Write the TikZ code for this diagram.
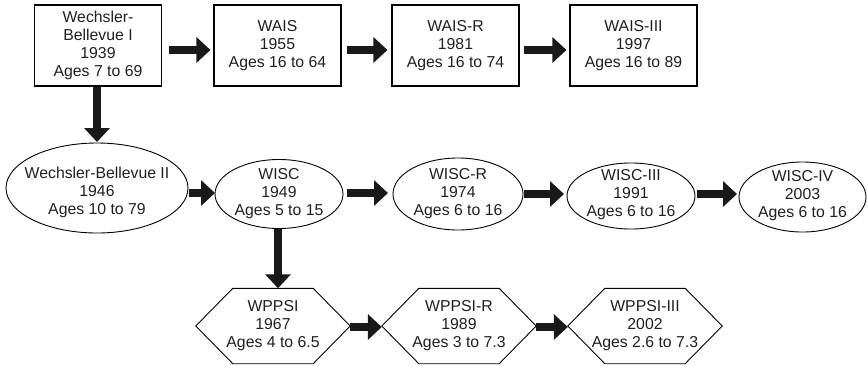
\documentclass[tikz,border=0pt]{standalone}
\usepackage{fontspec}
\setmainfont{Liberation Sans}
\usetikzlibrary{arrows.meta,shapes.geometric,calc}
\begin{document}
\begin{tikzpicture}[x=1pt,y=-1pt,
  txt/.style={font=\fontsize{15.8}{18}\selectfont, align=center, text=black!88, inner sep=0pt},
  boxnode/.style={txt, draw, line width=1.1pt, minimum width=127pt, minimum height=81pt},
  ellnode/.style={draw, ellipse, line width=0.9pt, inner sep=0pt, outer sep=0pt},
  hexnode/.style={txt, minimum width=154pt, minimum height=75pt},
  hexline/.style={draw, line width=0.9pt},
  bigarrow/.style={line width=8pt, black!90, -{Triangle[length=14pt,width=25pt]}}
]
\useasboundingbox (0,0) rectangle (868,365);

% Row 1
\node[boxnode] (wb1) at (98,45.5) {Wechsler-\\Bellevue I\\1939\\Ages 7 to 69};
\node[boxnode] (wais) at (277.5,45.5) {WAIS\\1955\\Ages 16 to 64};
\node[boxnode] (waisr) at (455.5,45.5) {WAIS-R\\1981\\Ages 16 to 74};
\node[boxnode] (waisiii) at (633.5,45.5) {WAIS-III\\1997\\Ages 16 to 89};

% Row 2 (ellipse outlines, then their texts)
\node[ellnode, minimum width=182pt, minimum height=90pt] (wb2) at (97,188) {};
\node[ellnode, minimum width=128pt, minimum height=69pt] (wisc) at (279,194) {};
\node[ellnode, minimum width=130pt, minimum height=72pt] (wiscr) at (458,194) {};
\node[ellnode, minimum width=128pt, minimum height=66pt] (wisciii) at (631,196) {};
\node[ellnode, minimum width=127pt, minimum height=70pt] (wisciv) at (802.5,197) {};
\node[txt] (wb2t) at ($(wb2.center)+(0,4)$) {Wechsler-Bellevue II\\1946\\Ages 10 to 79};
\node[txt] (wisct) at (wisc.center) {WISC\\1949\\Ages 5 to 15};
\node[txt] (wiscrt) at (wiscr.center) {WISC-R\\1974\\Ages 6 to 16};
\node[txt] (wisciiit) at ($(wisciii.center)+(0,-1)$) {WISC-III\\1991\\Ages 6 to 16};
\node[txt] (wiscivt) at ($(wisciv.center)+(0,-1)$) {WISC-IV\\2003\\Ages 6 to 16};

% Row 3
\node[hexnode] (wppsi) at (273,326) {WPPSI\\1967\\Ages 4 to 6.5};
\node[hexnode] (wppsir) at (459,326) {WPPSI-R\\1989\\Ages 3 to 7.3};
\node[hexnode] (wppsiiii) at (645,326) {WPPSI-III\\2002\\Ages 2.6 to 7.3};
\foreach \h in {wppsi,wppsir,wppsiiii}{
  \draw[hexline] (\h.west) -- ([xshift=37pt]\h.north west) -- ([xshift=-37pt]\h.north east)
    -- (\h.east) -- ([xshift=-37pt]\h.south east) -- ([xshift=37pt]\h.south west) -- cycle;
}

% Arrows row 1
\draw[bigarrow] ($(wb1.east)+(7,4.5)$) -- ($(wais.west)+(-3,4.5)$);
\draw[bigarrow] ($(wais.east)+(5,4.5)$) -- ($(waisr.west)+(-4,4.5)$);
\draw[bigarrow] ($(waisr.east)+(4,4.5)$) -- ($(waisiii.west)+(-3,4.5)$);

% Vertical arrows
\draw[bigarrow] ($(wb1.south)+(-1,0)$) -- ($(wb2.north)+(0,-1)$);
\coordinate (s2) at ($(wisc.south)+(-1,0)$);
\draw[bigarrow] (s2) -- (s2 |- wppsi.north);

% Arrows row 2
\draw[bigarrow] ($(wb2.east)+(1,5)$) -- ($(wisc.west)+(0,-1)$);
\draw[bigarrow] ($(wisc.east)+(4,-1)$) -- ($(wiscr.west)+(-5,-1)$);
\draw[bigarrow] ($(wiscr.east)+(1,0)$) -- ($(wisciii.west)+(-3,-2)$);
\draw[bigarrow] ($(wisciii.east)+(2,-2)$) -- ($(wisciv.west)+(-2,-3)$);

% Arrows row 3
\draw[bigarrow] ($(wppsi.east)+(0,1)$) -- ($(wppsir.west)+(0,1)$);
\draw[bigarrow] ($(wppsir.east)+(0,1)$) -- ($(wppsiiii.west)+(0,1)$);
\end{tikzpicture}
\end{document}
